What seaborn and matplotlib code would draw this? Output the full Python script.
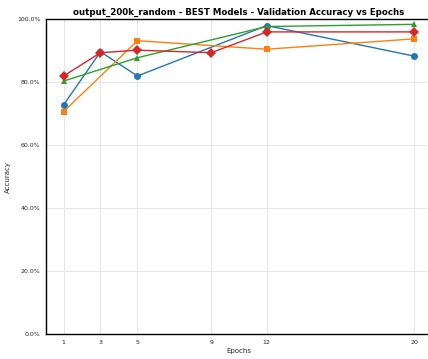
import pandas as pd
import matplotlib.pyplot as plt
import matplotlib.ticker as mticker
import seaborn as sns

# Validation accuracy of the best models per epoch budget
model_names = ['model_a', 'model_b', 'model_c', 'model_d']
epochs_a = [1, 3, 5, 12, 20]
acc_a = [0.728, 0.897, 0.820, 0.980, 0.883]
epochs_b = [1, 5, 12, 20]
acc_b = [0.707, 0.932, 0.905, 0.938]
epochs_c = [1, 5, 12, 20]
acc_c = [0.804, 0.878, 0.977, 0.984]
epochs_d = [1, 3, 5, 9, 12, 20]
acc_d = [0.820, 0.894, 0.902, 0.894, 0.960, 0.960]
tick_epochs = [1, 3, 5, 9, 12, 20]

rows = []
for name, ep, acc in zip(model_names,
                         [epochs_a, epochs_b, epochs_c, epochs_d],
                         [acc_a, acc_b, acc_c, acc_d]):
    for e, a in zip(ep, acc):
        rows.append({'model': name, 'epochs': e, 'accuracy': a})
df = pd.DataFrame(rows)

sns.set_theme(style="whitegrid")
fig = plt.figure(figsize=(4.28, 3.59), dpi=100)
ax = fig.add_axes([46 / 428, (359 - 334.3) / 359, 386 / 428, 315 / 359])

sns.lineplot(data=df, x='epochs', y='accuracy', hue='model', style='model',
             markers=['o', 's', '^', 'D'], dashes=False, palette='tab10',
             linewidth=1.0, markersize=5, markeredgewidth=0, ax=ax, legend=False)

ax.set_ylim(0, 1.0)
ax.set_xticks(tick_epochs)
ax.yaxis.set_major_formatter(mticker.PercentFormatter(1.0, decimals=1))
ax.set_title('output_200k_random - BEST Models - Validation Accuracy vs Epochs',
             fontsize=6.2, weight='bold', pad=3, color='black')
ax.set_xlabel('Epochs', fontsize=5, labelpad=2)
ax.set_ylabel('Accuracy', fontsize=5, labelpad=4)
ax.tick_params(labelsize=4.5, length=2, width=0.6, pad=2, color='black')
ax.grid(True, color='#e6e6e6', linewidth=0.7)
for side in ['left', 'bottom', 'top', 'right']:
    ax.spines[side].set_color('black')
    ax.spines[side].set_linewidth(1.0)

plt.savefig('out.png', dpi=100)
plt.close()
